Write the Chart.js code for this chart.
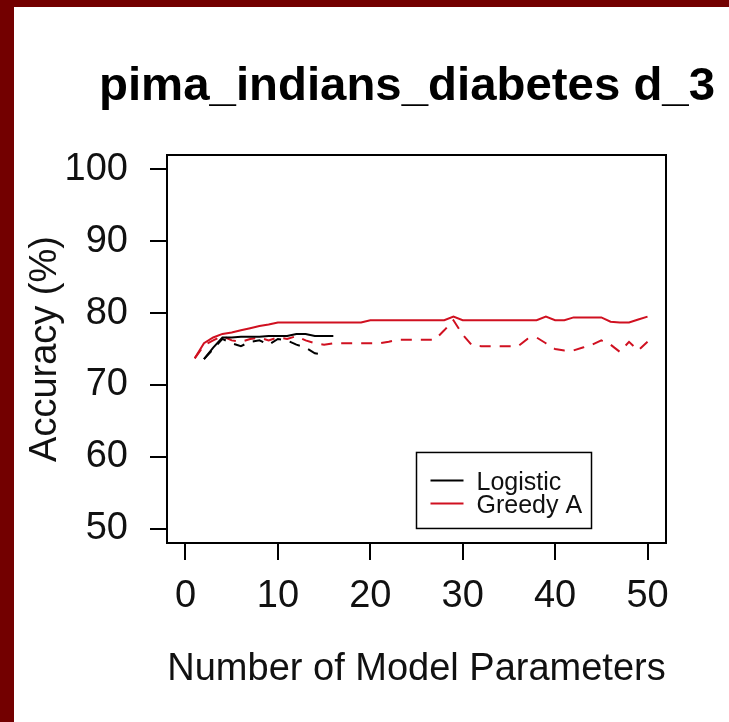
<!DOCTYPE html>
<html>
<head>
<meta charset="utf-8">
<script src="https://cdn.jsdelivr.net/npm/chart.js@4.4.1/dist/chart.umd.min.js"></script>
<style>
  html, body { margin: 0; padding: 0; width: 729px; height: 722px; overflow: hidden; background: #730000; }
  #panel { position: absolute; left: 14px; top: 7px; width: 715px; height: 715px; background: #ffffff; }
  canvas { display: block; }
</style>
</head>
<body>
<div id="panel"><canvas id="chart" width="715" height="715"></canvas></div>
<script>
// Text
const chartTitle = 'pima_indians_diabetes d_3';
const xAxisTitle = 'Number of Model Parameters';
const yAxisTitle = 'Accuracy (%)';
const seriesNames = ['Logistic', 'Greedy A'];

// Axis ticks
const xTickValues = [0, 10, 20, 30, 40, 50];
const yTickValues = [50, 60, 70, 80, 90, 100];

// Logistic regression: training (solid) and held-out (dashed) accuracy
const logisticParams = [2, 3, 4, 5, 6, 7, 8, 9, 10, 11, 12, 13, 14, 15, 16];
const logisticTrain = [73.6, 75.2, 76.6, 76.6, 76.7, 76.7, 76.7, 76.8, 76.8, 76.8, 77.1, 77.1, 76.8, 76.8, 76.8];
const logisticTestParams = [2, 3, 4, 5, 6, 7, 8, 9, 10, 11, 12, 13, 14, 15];
const logisticTest = [73.6, 75.0, 76.4, 75.8, 75.4, 76.0, 76.2, 75.6, 76.4, 76.2, 75.6, 75.2, 74.4, 74.2];

// Greedy A: training (solid) and held-out (dashed) accuracy
const greedyParams = [1, 2, 3, 4, 5, 6, 7, 8, 9, 10, 11, 12, 13, 14, 15, 16, 17, 18, 19, 20, 21, 22, 23, 24, 25,
                      26, 27, 28, 29, 30, 31, 32, 33, 34, 35, 36, 37, 38, 39, 40, 41, 42, 43, 44, 45, 46, 47, 48, 49, 50];
const greedyTrain = [73.7, 75.8, 76.6, 77.1, 77.3, 77.6, 77.9, 78.2, 78.4, 78.7, 78.7, 78.7, 78.7, 78.7, 78.7, 78.7, 78.7, 78.7, 78.7, 79.0, 79.0, 79.0, 79.0, 79.0, 79.0,
                     79.0, 79.0, 79.0, 79.5, 79.0, 79.0, 79.0, 79.0, 79.0, 79.0, 79.0, 79.0, 79.0, 79.5, 79.0, 79.0, 79.4, 79.4, 79.4, 79.4, 78.8, 78.7, 78.7, 79.1, 79.5];
const greedyTest = [73.7, 75.5, 76.2, 76.8, 76.2, 76.0, 76.4, 76.6, 76.2, 76.6, 76.4, 76.8, 76.2, 75.8, 75.6, 75.8, 75.8, 75.8, 75.8, 75.8, 75.8, 76.0, 76.3, 76.3, 76.3,
                    76.3, 76.3, 77.6, 79.0, 77.0, 75.5, 75.4, 75.4, 75.4, 75.4, 75.4, 76.4, 76.6, 75.8, 75.0, 74.8, 74.8, 75.2, 75.6, 76.2, 75.6, 74.6, 76.0, 74.8, 76.0];

const BLACK = '#000000';
const RED = '#d01020';
const FONT = '"Liberation Sans", Arial, Helvetica, sans-serif';
const TEXT = '#111111';

function pairs(xs, ys) { return xs.map((x, i) => ({ x: x, y: ys[i] })); }

// Bold heading, stretched to its set width
const heading = {
  id: 'heading',
  afterDraw(chart, args, opts) {
    const ctx = chart.ctx;
    ctx.save();
    ctx.font = 'bold ' + opts.size + 'px ' + FONT;
    ctx.fillStyle = BLACK;
    ctx.textAlign = 'center';
    ctx.textBaseline = 'middle';
    const w = ctx.measureText(opts.text).width;
    const sx = opts.width / w;
    ctx.translate(opts.cx, opts.cy);
    ctx.scale(sx, 1);
    ctx.fillText(opts.text, 0, 0);
    ctx.restore();
  }
};

// Plot frame around the data area
const frame = {
  id: 'frame',
  afterDatasetsDraw(chart) {
    const a = chart.chartArea, ctx = chart.ctx;
    ctx.save();
    ctx.strokeStyle = BLACK;
    ctx.lineWidth = 2;
    ctx.strokeRect(a.left, a.top, a.right - a.left, a.bottom - a.top);
    ctx.restore();
  }
};

// Boxed legend anchored in data coordinates
const boxLegend = {
  id: 'boxLegend',
  afterDraw(chart, args, opts) {
    const ctx = chart.ctx;
    const x0 = chart.scales.x.getPixelForValue(opts.x);
    const y0 = chart.scales.y.getPixelForValue(opts.y);
    const w = 175, h = 76;
    ctx.save();
    ctx.fillStyle = '#ffffff';
    ctx.fillRect(x0, y0, w, h);
    ctx.strokeStyle = BLACK;
    ctx.lineWidth = 1.5;
    ctx.strokeRect(x0, y0, w, h);
    const rows = [
      { label: seriesNames[0], color: chart.data.datasets[0].borderColor, dy: 28 },
      { label: seriesNames[1], color: chart.data.datasets[2].borderColor, dy: 51 }
    ];
    ctx.font = '25px ' + FONT;
    ctx.textBaseline = 'middle';
    ctx.textAlign = 'left';
    rows.forEach(r => {
      ctx.strokeStyle = r.color;
      ctx.lineWidth = 2;
      ctx.beginPath();
      ctx.moveTo(x0 + 14, y0 + r.dy);
      ctx.lineTo(x0 + 47, y0 + r.dy);
      ctx.stroke();
      ctx.fillStyle = TEXT;
      ctx.fillText(r.label, x0 + 60, y0 + r.dy + 3);
    });
    ctx.restore();
  }
};

new Chart(document.getElementById('chart'), {
  type: 'line',
  data: {
    datasets: [
      { label: 'Logistic train', data: pairs(logisticParams, logisticTrain), borderColor: BLACK, borderWidth: 2 },
      { label: 'Logistic test', data: pairs(logisticTestParams, logisticTest), borderColor: BLACK, borderWidth: 2, borderDash: [11, 9] },
      { label: 'Greedy A train', data: pairs(greedyParams, greedyTrain), borderColor: RED, borderWidth: 2 },
      { label: 'Greedy A test', data: pairs(greedyParams, greedyTest), borderColor: RED, borderWidth: 2, borderDash: [11, 9] }
    ]
  },
  options: {
    responsive: false,
    animation: false,
    devicePixelRatio: 1,
    layout: { padding: { left: 0, right: 63, top: 148, bottom: 0 } },
    elements: { point: { radius: 0 }, line: { tension: 0, fill: false } },
    plugins: {
      legend: { display: false },
      tooltip: { enabled: false },
      title: { display: false },
      heading: { text: chartTitle, size: 46, width: 616, cx: 393, cy: 80 },
      boxLegend: { x: 25, y: 60.6 }
    },
    scales: {
      x: {
        type: 'linear',
        min: -2,
        max: 52,
        afterBuildTicks: s => { s.ticks = xTickValues.map(v => ({ value: v })); },
        afterFit: s => { s.height = 179; },
        border: { display: false },
        grid: { display: true, drawOnChartArea: false, drawTicks: true, tickLength: 17, color: BLACK, lineWidth: 2 },
        ticks: { color: TEXT, padding: 14, maxRotation: 0, font: { family: FONT, size: 38 } },
        title: { display: true, text: xAxisTitle, color: TEXT, font: { family: FONT, size: 38 }, padding: { top: 0, bottom: 30 } }
      },
      y: {
        type: 'linear',
        min: 48,
        max: 102,
        afterBuildTicks: s => { s.ticks = yTickValues.map(v => ({ value: v })); },
        afterFit: s => { s.width = 153; },
        border: { display: false },
        grid: { display: true, drawOnChartArea: false, drawTicks: true, tickLength: 17, color: BLACK, lineWidth: 2 },
        ticks: { color: TEXT, padding: 22, font: { family: FONT, size: 38 } },
        title: { display: true, text: yAxisTitle, color: TEXT, font: { family: FONT, size: 38 }, padding: { top: 9, bottom: 0 } }
      }
    }
  },
  plugins: [heading, frame, boxLegend]
});
</script>
</body>
</html>
